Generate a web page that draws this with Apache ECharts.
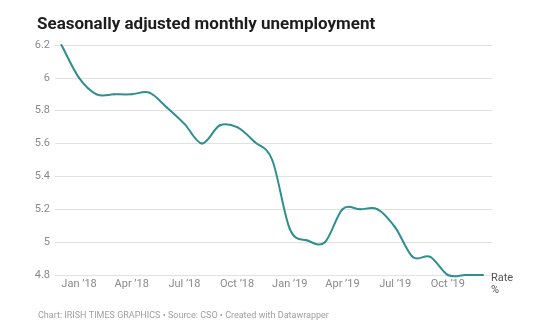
<!DOCTYPE html>
<html>
<head>
<meta charset="utf-8">
<script src="https://cdn.jsdelivr.net/npm/echarts@6/dist/echarts.min.js"></script>
<style>
html,body{margin:0;padding:0;background:#fff;}
#chart{width:550px;height:326px;}
</style>
</head>
<body>
<div id="chart"></div>
<script>
const months = ["Dec ’17","Jan ’18","Feb ’18","Mar ’18","Apr ’18","May ’18","Jun ’18","Jul ’18","Aug ’18","Sep ’18","Oct ’18","Nov ’18","Dec ’18",
  "Jan ’19","Feb ’19","Mar ’19","Apr ’19","May ’19","Jun ’19","Jul ’19","Aug ’19","Sep ’19","Oct ’19","Nov ’19","Dec ’19"];
const rates = [6.2, 6.0, 5.9, 5.9, 5.9, 5.91, 5.82, 5.72, 5.6, 5.71, 5.7, 5.61, 5.5,
  5.08, 5.01, 5.0, 5.2, 5.2, 5.2, 5.09, 4.91, 4.91, 4.8, 4.8, 4.8];
const labelledMonths = ["Jan ’18","Apr ’18","Jul ’18","Oct ’18","Jan ’19","Apr ’19","Jul ’19","Oct ’19"];
const yMin = 4.8, yMax = 6.2, yStep = 0.2;
const titleText = "Seasonally adjusted monthly unemployment";
const footerText = "Chart: IRISH TIMES GRAPHICS • Source: CSO • Created with Datawrapper";
const seriesLabel = "Rate\n%";

const LINE_COLOR = '#2e8f91';
const chart = echarts.init(document.getElementById('chart'), null, {renderer: 'canvas'});
const FONT = 'Roboto, "Noto Sans", sans-serif';

// Catmull-Rom curve segment through the data, positioned via the axes' scales
function renderSegment(params, api) {
  const i = params.dataIndex;
  const n = rates.length;
  if (i >= n - 1) return null;
  const pt = j => api.coord([Math.max(0, Math.min(n - 1, j)), rates[Math.max(0, Math.min(n - 1, j))]]);
  const p0 = pt(i - 1), p1 = pt(i), p2 = pt(i + 1), p3 = pt(i + 2);
  return {
    type: 'bezierCurve',
    shape: {
      x1: p1[0], y1: p1[1], x2: p2[0], y2: p2[1],
      cpx1: p1[0] + (p2[0] - p0[0]) / 6, cpy1: p1[1] + (p2[1] - p0[1]) / 6,
      cpx2: p2[0] - (p3[0] - p1[0]) / 6, cpy2: p2[1] - (p3[1] - p1[1]) / 6
    },
    style: {stroke: LINE_COLOR, fill: null, lineWidth: 2, lineCap: 'round'}
  };
}

chart.setOption({
  backgroundColor: '#ffffff',
  animation: false,
  title: [{
    text: titleText, left: 32, top: 11,
    textStyle: {fontFamily: FONT, fontWeight: 'bold', fontSize: 17, color: '#1d1d1d'}
  }, {
    text: footerText, left: 33, top: 306,
    textStyle: {fontFamily: FONT, fontWeight: 'normal', fontSize: 9, color: '#a0a0a0'}
  }],
  grid: [
    {left: 55, right: 58, top: 45, bottom: 51},
    {left: 61.5, right: 67, top: 45, bottom: 51}
  ],
  xAxis: [
    {gridIndex: 0, type: 'value', show: false, min: 0, max: 1},
    {gridIndex: 1, type: 'category', data: months, boundaryGap: false,
     axisLine: {show: false}, axisTick: {show: false}, splitLine: {show: false},
     axisLabel: {
       interval: (i, v) => labelledMonths.indexOf(v) >= 0,
       margin: 4, color: '#8a8a8a', fontSize: 11, fontFamily: FONT
     }}
  ],
  yAxis: [
    {gridIndex: 0, type: 'value', min: yMin, max: yMax, interval: yStep,
     axisLine: {show: false}, axisTick: {show: false},
     splitLine: {lineStyle: {color: '#e1e1e1', width: 1}},
     axisLabel: {margin: 5, color: '#8a8a8a', fontSize: 11, fontFamily: FONT}},
    {gridIndex: 1, type: 'value', min: yMin, max: yMax, show: false}
  ],
  series: [{
    type: 'custom', xAxisIndex: 1, yAxisIndex: 1,
    data: rates.map((v, i) => [i, v]),
    renderItem: renderSegment, clip: false, silent: true
  }, {
    type: 'line', xAxisIndex: 1, yAxisIndex: 1,
    data: rates, showSymbol: false, symbol: 'none',
    lineStyle: {opacity: 0, width: 0},
    endLabel: {
      show: true, formatter: seriesLabel, distance: 8,
      color: '#555', fontSize: 11, fontFamily: FONT, lineHeight: 12,
      align: 'left', verticalAlign: 'top', offset: [0, -3]
    }
  }]
});
</script>
</body>
</html>
